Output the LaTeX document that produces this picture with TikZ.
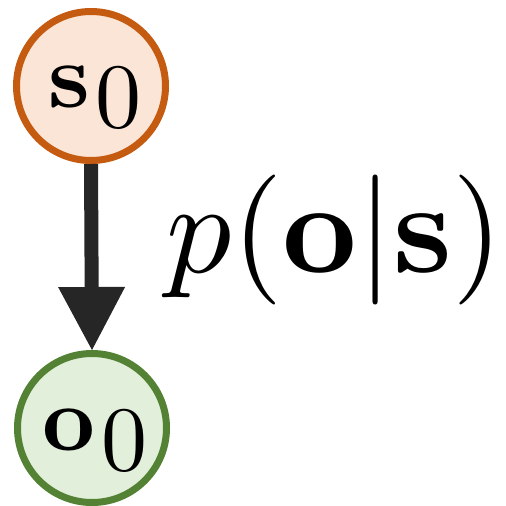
\documentclass[tikz,border=0pt]{standalone}
\usepackage{graphicx}
\usetikzlibrary{arrows.meta}
\definecolor{sborder}{HTML}{C55A11}
\definecolor{sfill}{HTML}{FBE5D6}
\definecolor{oborder}{HTML}{548235}
\definecolor{ofill}{HTML}{E2EFDA}
\definecolor{arrowc}{HTML}{262626}
\tikzset{
  varnode/.style={circle, line width=7pt, minimum size=149pt, inner sep=0pt},
  varlabel/.style={anchor=base, inner sep=0pt},
  edgearrow/.style={line width=14pt, draw=arrowc,
    -{Triangle[length=63pt,width=67pt,line width=0pt]}}
}
\begin{document}
\begin{tikzpicture}[x=1pt,y=-1pt]
\useasboundingbox (0,0) rectangle (506,506);
\node[varnode, draw=sborder, fill=sfill] (s0) at (91,86) {};
\node[varnode, draw=oborder, fill=ofill] (o0) at (92,428) {};
\node[varlabel] (s0l) at (95,107) {\scalebox{9.2}{$\mathbf{s}\mkern1mu\raisebox{-0.22em}{$0$}$}};
\node[varlabel] (o0l) at (95,450) {\scalebox{9.2}{$\mathbf{o}\mkern1mu\raisebox{-0.22em}{$0$}$}};
\draw[edgearrow] (s0.south) -- (o0.north);
\node[anchor=base, inner sep=0pt] (lik) at (335,272) {\scalebox{13}{$p(\mathbf{o}|\mathbf{s})$}};
\end{tikzpicture}
\end{document}
